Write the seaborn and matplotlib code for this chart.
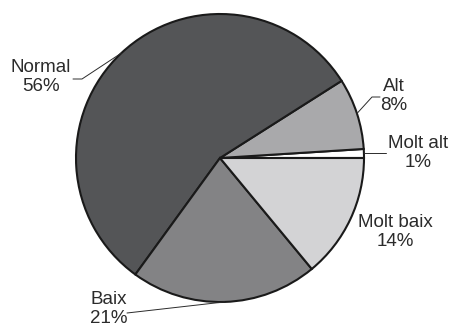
import numpy as np
import seaborn as sns
import matplotlib.pyplot as plt

# ------------------------------------------------
# Data
# ------------------------------------------------
categories = ["Molt alt", "Alt", "Normal", "Baix", "Molt baix"]
percent = [1, 8, 56, 21, 14]
colors = ["#ffffff", "#a9a9ab", "#545557", "#838385", "#d3d3d5"]

sns.set_theme(style="white")
plt.rcParams['font.family'] = ['Liberation Sans', 'DejaVu Sans']

W, H = 452, 329
CX, CY, R = 220, 158, 144


def px(x, y):
    # pixel position -> data coords (pie radius = 1)
    return (x - CX) / R, (CY - y) / R


fig = plt.figure(figsize=(W / 100, H / 100), dpi=100)
ax = fig.add_axes([0, 0, 1, 1])
wedges, _ = ax.pie(percent, colors=colors, startangle=0, counterclock=True,
                   wedgeprops=dict(edgecolor="#1a1a1a", linewidth=1.5))
ax.set_aspect('auto')
ax.set_xlim(-CX / R, (W - CX) / R)
ax.set_ylim(-(H - CY) / R, CY / R)
ax.axis('off')

# label position (px), leader path points after the wedge edge (px)
labels = {
    "Normal": ((41, 77), [(82, 79), (73, 79)]),
    "Alt": ((394, 96), [(372, 97), (380, 97)]),
    "Molt alt": ((418, 153), [(386, None)]),
    "Molt baix": ((395, 232), []),
    "Baix": ((109, 309), [(127, 313)]),
}

for w, name, p in zip(wedges, categories, percent):
    (tx, ty), path = labels[name]
    ax.text(*px(tx, ty), f"{name}\n{p}%", ha="center", va="center",
            fontsize=13.5, color="#2b2b2b", linespacing=1.12)
    if path:
        mid = np.deg2rad((w.theta1 + w.theta2) / 2)
        ex, ey = np.cos(mid), np.sin(mid)
        xs, ys = [ex], [ey]
        for qx, qy in path:
            dx, dy = px(qx, qy if qy is not None else CY)
            xs.append(dx)
            ys.append(dy if qy is not None else ey)
        ax.plot(xs, ys, color="#2b2b2b", linewidth=0.7)

plt.savefig("out.png", dpi=100)
plt.close(fig)
